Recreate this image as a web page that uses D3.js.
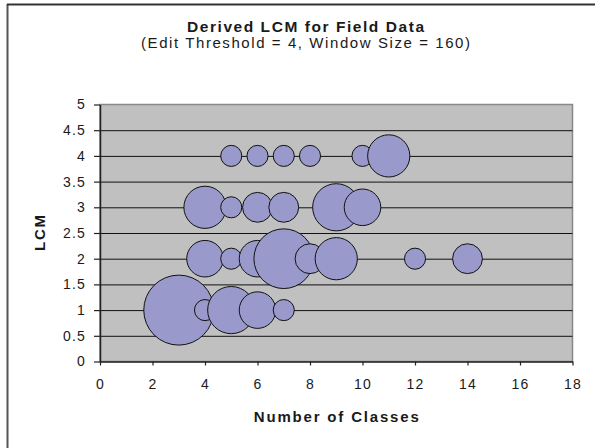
<!DOCTYPE html>
<html>
<head>
<meta charset="utf-8">
<script src="https://cdn.jsdelivr.net/npm/d3@7/dist/d3.min.js"></script>
<style>
  html, body { margin: 0; padding: 0; background: #fff; }
  svg { display: block; }
  text { font-family: "Liberation Sans", Arial, sans-serif; fill: #1a1a1a; }
</style>
</head>
<body>
<svg id="chart" width="595" height="448"></svg>
<script>
// Bubble data: number of classes (x), LCM (y), bubble size (count)
const classes = [5, 6, 7, 8, 10, 11,  4, 5, 6, 7, 9, 10,  4, 5, 6, 7, 8, 9, 12, 14,  3, 4, 5, 6, 7];
const lcm     = [4, 4, 4, 4, 4, 4,    3, 3, 3, 3, 3, 3,   2, 2, 2, 2, 2, 2, 2, 2,     1, 1, 1, 1, 1];
const counts  = [1, 1, 1, 1, 1, 4,    4, 1, 2, 2, 5, 3,   3, 1, 3, 8, 2, 4, 1, 2,     11, 1, 5, 3, 1];

const xTicks = [0, 2, 4, 6, 8, 10, 12, 14, 16, 18];
const yTicks = [0, 0.5, 1, 1.5, 2, 2.5, 3, 3.5, 4, 4.5, 5];

const titleText = "Derived LCM for Field Data";
const subtitleText = "(Edit Threshold = 4, Window Size = 160)";
const xTitle = "Number of Classes";
const yTitle = "LCM";

const svg = d3.select("#chart");
const plot = { left: 100, right: 572.5, top: 104.5, bottom: 361.5 };

const x = d3.scaleLinear().domain([0, 18]).range([plot.left, plot.right]);
const y = d3.scaleLinear().domain([0, 5]).range([plot.bottom, plot.top]);
const r = d3.scaleSqrt().domain([0, 11]).range([0, 35]);

// Outer chart frame (left and top edges)
svg.append("line").attr("x1", 7.5).attr("x2", 7.5).attr("y1", 4).attr("y2", 448)
  .attr("stroke", "#555").attr("stroke-width", 2);
svg.append("line").attr("x1", 7).attr("x2", 595).attr("y1", 4.5).attr("y2", 4.5)
  .attr("stroke", "#333").attr("stroke-width", 2);

// Titles
svg.append("text").attr("x", 305.5).attr("y", 32.3).attr("text-anchor", "middle")
  .attr("font-size", 15.5).attr("font-weight", "bold")
  .attr("textLength", 237).attr("lengthAdjust", "spacing").text(titleText);
svg.append("text").attr("x", 305.5).attr("y", 48.3).attr("text-anchor", "middle")
  .attr("font-size", 15)
  .attr("textLength", 329).attr("lengthAdjust", "spacing").text(subtitleText);

// Plot background
svg.append("rect")
  .attr("x", plot.left).attr("y", plot.top)
  .attr("width", plot.right - plot.left).attr("height", plot.bottom - plot.top)
  .attr("fill", "#c0c0c0").attr("stroke", "#888").attr("stroke-width", 1.5);

// Horizontal gridlines
const grid = svg.append("g").attr("transform", `translate(${plot.left},0)`)
  .call(d3.axisLeft(y).tickValues(yTicks.filter(v => v > 0 && v < 5))
    .tickSize(-(plot.right - plot.left)).tickFormat(""));
grid.select(".domain").remove();
grid.selectAll("line").attr("stroke", "#111").attr("stroke-width", 1);

// Bubbles
svg.append("g").selectAll("circle")
  .data(classes.map((c, i) => ({ x: c, y: lcm[i], s: counts[i] })))
  .join("circle")
  .attr("cx", d => x(d.x))
  .attr("cy", d => y(d.y))
  .attr("r", d => r(d.s))
  .attr("fill", "#9999cc")
  .attr("stroke", "#111")
  .attr("stroke-width", 1);

// Axes
const yAxis = svg.append("g").attr("transform", `translate(${plot.left},0)`)
  .call(d3.axisLeft(y).tickValues(yTicks).tickSizeInner(6).tickSizeOuter(0)
    .tickPadding(8).tickFormat(d => String(d)));
const xAxis = svg.append("g").attr("transform", `translate(0,${plot.bottom})`)
  .call(d3.axisBottom(x).tickValues(xTicks).tickSizeInner(4).tickSizeOuter(0)
    .tickPadding(14).tickFormat(d => String(d)));

[yAxis, xAxis].forEach(a => {
  a.select(".domain").attr("stroke", "#222").attr("stroke-width", 1.5);
  a.selectAll(".tick line").attr("stroke", "#222").attr("stroke-width", 1.2);
  a.selectAll(".tick text")
    .attr("font-family", "\"Liberation Sans\", Arial, sans-serif")
    .attr("font-size", 14).attr("fill", "#1a1a1a")
    .style("letter-spacing", "1.2px");
});

// Axis titles
svg.append("text").attr("x", (plot.left + plot.right) / 2).attr("y", 421.7)
  .attr("text-anchor", "middle").attr("font-size", 15).attr("font-weight", "bold")
  .attr("textLength", 165).attr("lengthAdjust", "spacing").text(xTitle);
svg.append("text")
  .attr("transform", `translate(45,${(plot.top + plot.bottom) / 2}) rotate(-90)`)
  .attr("text-anchor", "middle").attr("font-size", 15).attr("font-weight", "bold")
  .attr("textLength", 36).attr("lengthAdjust", "spacing").text(yTitle);
</script>
</body>
</html>
